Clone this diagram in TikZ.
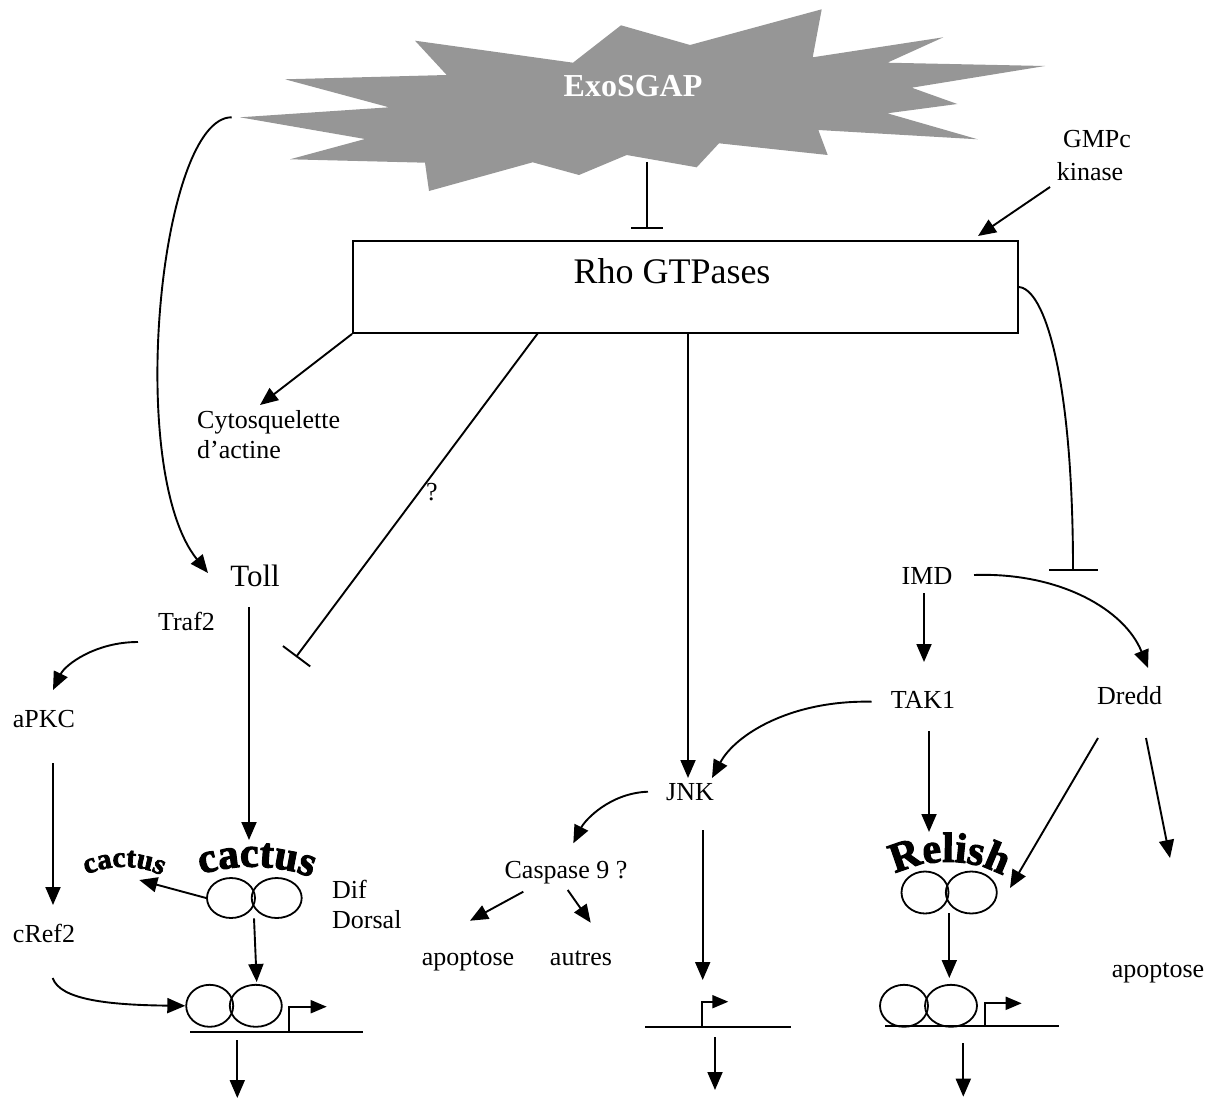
\documentclass[tikz,border=0pt]{standalone}
\usepackage{fontspec}
\setmainfont{Liberation Serif}
\newfontfamily\waFont[BoldFeatures={FakeBold=2.5}]{Liberation Serif}
\usetikzlibrary{arrows.meta,shapes.geometric,decorations.text}
\definecolor{exogray}{HTML}{969696}
\tikzset{
  lbl/.style={font=\fontsize{26}{30}\selectfont, inner sep=0pt, anchor=base},
  arr/.style={line width=1.9pt, -{Triangle[length=18pt,width=15pt]}},
  inh/.style={line width=1.9pt, -{Bar[width=#1,line width=1.9pt]}},
  lig/.style={ellipse, draw, line width=1.8pt, inner sep=0pt},
  dna/.style={line width=1.9pt},
  flag/.style={line width=1.9pt, -{Triangle[length=16pt,width=13pt]}},
  warc/.style={decorate, decoration={text along path, text align=center, text={#1}}}
}
\begin{document}
\begin{tikzpicture}[x=1pt,y=-1pt]
\useasboundingbox (0,0) rectangle (1222,1102);
% starburst
\fill[exogray] (240,117.3) -- (389,107.3) -- (285,79.3) -- (446.7,75) -- (415,40.7) -- (573,62.7)
  -- (621,25.3) -- (690,45) -- (821.7,9.3) -- (812.7,57.3) -- (943.3,37.3) -- (887.3,62.7)
  -- (1045,66) -- (911.7,87.7) -- (957.3,104) -- (887.3,113.3) -- (977.7,139.3) -- (818.3,130)
  -- (827.7,155) -- (719,143.3) -- (696.7,167.3) -- (626.7,155) -- (579,175) -- (532.7,162.3)
  -- (429,191) -- (425,162.7) -- (290,159.3) -- (365,139) -- cycle;
\node[font=\fontsize{32}{36}\selectfont\bfseries, text=white, inner sep=0pt, anchor=base] (exo) at (633,97) {ExoSGAP};

% Rho box
\node[draw, line width=1.9pt, minimum width=665pt, minimum height=92pt, inner sep=0pt] (rho) at (685.5,287) {};
\node[font=\fontsize{36}{40}\selectfont, inner sep=0pt, anchor=base] (rhot) at (672,283) {Rho GTPases};

% labels
\node[lbl] (gmpc) at (1097,148) {GMPc};
\node[lbl] (kin) at (1090,180) {kinase};
\node[lbl, anchor=base west] (cyto) at (197,428) {Cytosquelette};
\node[lbl, anchor=base west] (actine) at (197,458) {d’actine};
\node[lbl] (q) at (432,500) {?};
\node[font=\fontsize{31}{34}\selectfont, inner sep=0pt, anchor=base] (toll) at (255,586) {Toll};
\node[lbl] (traf) at (186.5,630) {Traf2};
\node[lbl] (apkc) at (44,727) {aPKC};
\node[lbl] (cref) at (44,942) {cRef2};
\node[lbl, anchor=base west] (dif) at (332,898) {Dif};
\node[lbl, anchor=base west] (dorsal) at (332,928) {Dorsal};
\node[lbl] (jnk) at (690,800) {JNK};
\node[lbl] (casp) at (566,878) {Caspase 9 ?};
\node[lbl] (apo1) at (468,965) {apoptose};
\node[lbl] (autres) at (581,965) {autres};
\node[lbl] (imd) at (927,584) {IMD};
\node[lbl] (tak) at (923,708) {TAK1};
\node[lbl, anchor=base west] (dredd) at (1097,704) {Dredd};
\node[lbl] (apo2) at (1158,977) {apoptose};

% dimers
\node[lig, minimum width=48pt, minimum height=40pt] (l1) at (231,898) {};
\node[lig, minimum width=50pt, minimum height=40pt] (r1) at (276.7,898) {};
\node[lig, minimum width=47pt, minimum height=42pt] (l2) at (209.7,1005.8) {};
\node[lig, minimum width=52pt, minimum height=42pt] (r2) at (255.8,1005.8) {};
\node[lig, minimum width=47pt, minimum height=42pt] (l3) at (925,892.5) {};
\node[lig, minimum width=51pt, minimum height=42pt] (r3) at (971.3,892.5) {};
\node[lig, minimum width=48pt, minimum height=42pt] (l4) at (904,1005.8) {};
\node[lig, minimum width=52pt, minimum height=42pt] (r4) at (951,1005.8) {};

% word-art labels
\path[warc={|\waFont\bfseries\fontsize{42}{42}\selectfont|cactus}] (190,879) .. controls (226,862) and (286,862) .. (322,883);
\path[warc={|\waFont\bfseries\fontsize{29}{29}\selectfont|cactus}] (80,878) .. controls (105,864) and (140,862) .. (168,879);
\path[warc={|\waFont\bfseries\fontsize{42}{42}\selectfont|Relish}] (884,881) .. controls (920,855) and (978,855) .. (1014,883);

% coordinates
\coordinate (exoS) at (646.7,162);
\coordinate (exoL) at (231.7,117.3);
\coordinate (tollT) at (208,573);
\coordinate (gmpS) at (1050,187);
\coordinate (gmpT) at (978,236);
\coordinate (cytoT) at (260,405);
\coordinate (rhoB1) at (538,333);
\coordinate (inhT) at (296,657);
\coordinate (rhoB2) at (688,333);
\coordinate (jnkT) at (688,778);
\coordinate (rhoR) at (1018,287);
\coordinate (imdBar) at (1073,571);
\coordinate (tollB) at (249,607);
\coordinate (cactT) at (249,840);
\coordinate (trafS) at (138,642);
\coordinate (apkcT) at (53,690);
\coordinate (apkcS) at (53,763);
\coordinate (crefT) at (53,905);
\coordinate (crefS) at (52.7,978);
\coordinate (smallT) at (139.3,880);
\coordinate (dimS1) at (254,918.3);
\coordinate (dimT1) at (256.7,982);
\coordinate (pL1) at (190,1031.7);
\coordinate (pR1) at (362.7,1031.7);
\coordinate (fL1) at (289.3,1031.7);
\coordinate (fT1) at (326.7,1006.7);
\coordinate (dL1) at (237.3,1040);
\coordinate (dL2) at (237.3,1098);
\coordinate (jnkS) at (648,791.7);
\coordinate (caspT) at (573.3,843.3);
\coordinate (caspS1) at (523.3,891.7);
\coordinate (apo1T) at (470,920.7);
\coordinate (caspS2) at (567.7,890);
\coordinate (autT) at (590.7,922.7);
\coordinate (jnkB) at (702.7,830);
\coordinate (jnkD) at (702.7,980);
\coordinate (pL2) at (645,1026.7);
\coordinate (pR2) at (790.7,1026.7);
\coordinate (fL2) at (702.3,1026.7);
\coordinate (fT2) at (728.3,1001.7);
\coordinate (dM1) at (715,1037);
\coordinate (dM2) at (715,1090);
\coordinate (imdB) at (924,593);
\coordinate (takT) at (924,662);
\coordinate (imdR) at (974,575);
\coordinate (dreddT) at (1148,668);
\coordinate (takL) at (871.7,701.7);
\coordinate (jnkT2) at (712,778);
\coordinate (takB) at (929,731);
\coordinate (relT) at (929,832);
\coordinate (drS1) at (1098,738);
\coordinate (relT2) at (1010,888);
\coordinate (drS2) at (1146,738);
\coordinate (apo2T) at (1170,858);
\coordinate (rdS) at (949.3,913.3);
\coordinate (rdT) at (949.3,978);
\coordinate (pL3) at (885,1026);
\coordinate (pR3) at (1059,1026);
\coordinate (fL3) at (985,1026);
\coordinate (fT3) at (1021.7,1003.3);
\coordinate (dR1) at (963.3,1043.3);
\coordinate (dR2) at (963.3,1096.7);

% connectors
\draw[inh=32pt] (exoS) -- (exoS |- rho.north) [shorten >=11pt];
\draw[arr] (gmpS) -- (gmpT);
\draw[arr] (rho.south west) -- (cytoT);
\draw[inh=34pt] (rhoB1) -- (inhT);
\draw[arr] (rhoB2) -- (jnkT);
\draw[inh=49pt] (rhoR) .. controls (1045,287) and (1073,380) .. (imdBar);
\draw[arr] (exoL) .. controls (160,117) and (125,470) .. (tollT);
\draw[arr] (tollB) -- (cactT);
\draw[arr] (trafS) .. controls (95,642) and (65,665) .. (apkcT);
\draw[arr] (apkcS) -- (crefT);
\draw[arr] (crefS) .. controls (60,1000) and (110,1005) .. (l2.west);
\draw[arr] (l1.west) -- (smallT);
\draw[arr] (dimS1) -- (dimT1);
\draw[dna] (pL1) -- (pR1);
\draw[flag] (fL1) |- (fT1);
\draw[arr] (dL1) -- (dL2);
\draw[arr] (jnkS) .. controls (610,793) and (585,820) .. (caspT);
\draw[arr] (caspS1) -- (apo1T);
\draw[arr] (caspS2) -- (autT);
\draw[arr] (jnkB) -- (jnkD);
\draw[dna] (pL2) -- (pR2);
\draw[flag] (fL2) |- (fT2);
\draw[arr] (dM1) -- (dM2);
\draw[arr] (imdB) -- (takT);
\draw[arr] (imdR) .. controls (1060,572) and (1125,610) .. (dreddT);
\draw[arr] (takL) .. controls (790,700) and (735,735) .. (jnkT2);
\draw[arr] (takB) -- (relT);
\draw[arr] (drS1) -- (relT2);
\draw[arr] (drS2) -- (apo2T);
\draw[arr] (rdS) -- (rdT);
\draw[dna] (pL3) -- (pR3);
\draw[flag] (fL3) |- (fT3);
\draw[arr] (dR1) -- (dR2);
\end{tikzpicture}
\end{document}
